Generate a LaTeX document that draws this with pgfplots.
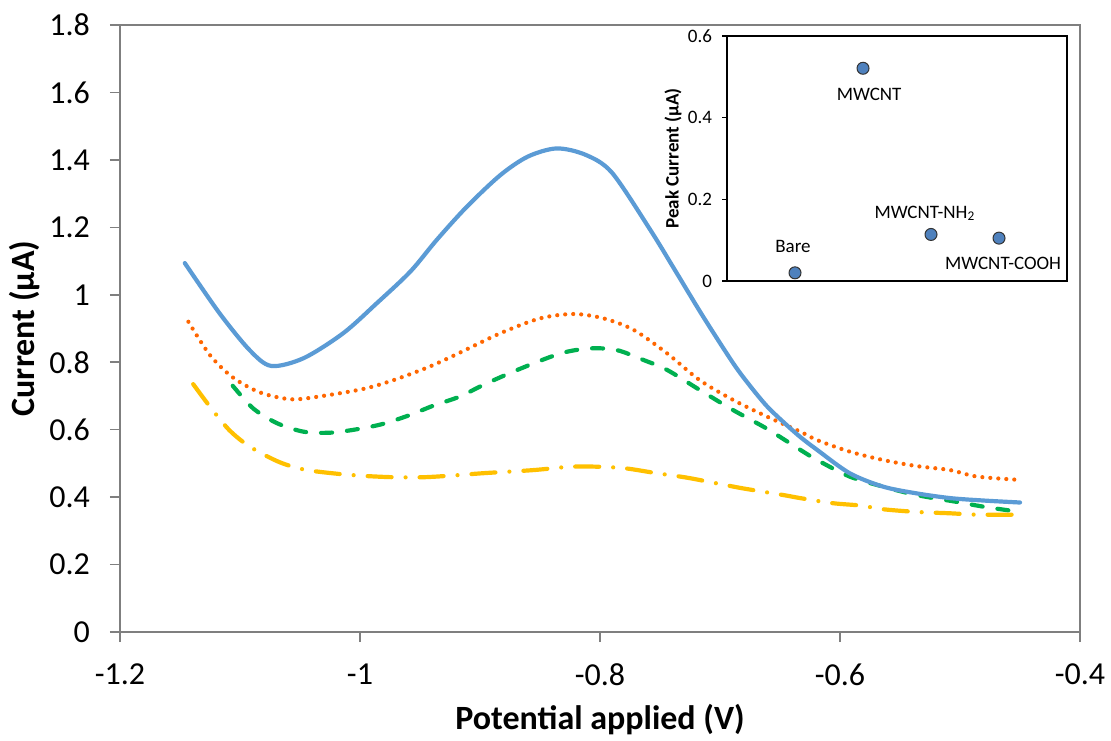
\documentclass[border=0pt]{standalone}
\usepackage{pgfplots}
\pgfplotsset{compat=1.18}
\usepackage{fontspec}
\setmainfont{Carlito}
\definecolor{cblue}{HTML}{5B9BD5}
\definecolor{corange}{HTML}{FF6600}
\definecolor{cgreen}{HTML}{00B050}
\definecolor{cyellow}{HTML}{FFC000}
\definecolor{cmark}{HTML}{4F81BD}
\definecolor{cgrid}{HTML}{7F7F7F}
\begin{document}
\begin{tikzpicture}
\useasboundingbox (-60pt,-54pt) rectangle (495.5pt,316pt);
\begin{axis}[at={(0,0)}, anchor=south west, scale only axis,
    width=480pt, height=303.5pt,
    xmin=-1.2, xmax=-0.4, ymin=0, ymax=1.8,
    xtick={-1.2,-1,...,-0.4}, ytick={0,0.2,...,1.8},
    xticklabels={-1.2,-1,-0.8,-0.6,-0.4},
    yticklabels={0,0.2,0.4,0.6,0.8,1,1.2,1.4,1.6,1.8},
    axis line style={cgrid, line width=0.8pt},
    tick style={cgrid, line width=0.8pt},
    tick align=outside, major tick length=5pt,
    xtick pos=bottom, ytick pos=left,
    ticklabel style={font=\fontsize{16}{16}\selectfont, text=black},
    xticklabel style={yshift=-7.5pt},
    yticklabel style={xshift=-6.5pt},
    /pgf/number format/assume math mode=true,
    xlabel={\textbf{Potential applied (V)}}, ylabel={\textbf{Current (μA)}},
    label style={font=\fontsize{17}{19}\selectfont},
    xlabel style={at={(axis description cs:0.5,0)}, anchor=center, yshift=-44pt},
    ylabel style={at={(axis description cs:0,0.5)}, anchor=center, yshift=47.5pt},
    clip=false]
% orange, dotted
\addplot[corange, line width=2.1pt, line cap=round, dash pattern=on 0pt off 4pt, smooth] coordinates {
(-1.143,0.920)(-1.125,0.821)(-1.106,0.755)(-1.083,0.710)(-1.057,0.690)(-1.031,0.700)
(-0.997,0.721)(-0.972,0.747)(-0.942,0.787)(-0.917,0.828)(-0.883,0.886)(-0.850,0.930)
(-0.822,0.943)(-0.797,0.930)(-0.772,0.896)(-0.744,0.826)(-0.717,0.747)(-0.689,0.688)
(-0.661,0.639)(-0.633,0.594)(-0.619,0.569)(-0.592,0.535)(-0.564,0.510)(-0.536,0.492)
(-0.508,0.480)(-0.486,0.461)(-0.450,0.451)};
% green, dashed
\addplot[cgreen, line width=2.1pt, line cap=round, dash pattern=on 5.5pt off 7.5pt, smooth] coordinates {
(-1.106,0.730)(-1.089,0.663)(-1.069,0.619)(-1.047,0.594)(-1.025,0.591)(-1.003,0.601)
(-0.981,0.617)(-0.958,0.644)(-0.939,0.671)(-0.917,0.698)(-0.897,0.733)(-0.869,0.777)
(-0.833,0.826)(-0.808,0.841)(-0.786,0.836)(-0.764,0.807)(-0.744,0.777)(-0.717,0.718)
(-0.689,0.658)(-0.661,0.603)(-0.633,0.540)(-0.619,0.510)(-0.592,0.461)(-0.564,0.431)
(-0.536,0.406)(-0.503,0.386)(-0.481,0.372)(-0.458,0.360)(-0.450,0.357)};
% yellow, dash-dot
\addplot[cyellow, line width=2.1pt, line cap=round, dash pattern=on 12pt off 7pt on 0pt off 7pt, smooth] coordinates {
(-1.139,0.735)(-1.125,0.668)(-1.109,0.599)(-1.092,0.550)(-1.068,0.505)(-1.047,0.482)
(-1.021,0.470)(-0.997,0.463)(-0.972,0.459)(-0.947,0.459)(-0.923,0.464)(-0.897,0.471)
(-0.856,0.480)(-0.825,0.490)(-0.800,0.490)(-0.778,0.485)(-0.753,0.471)(-0.728,0.458)
(-0.703,0.441)(-0.681,0.426)(-0.647,0.406)(-0.633,0.397)(-0.606,0.382)(-0.583,0.375)
(-0.564,0.364)(-0.536,0.356)(-0.508,0.352)(-0.486,0.348)(-0.450,0.348)};
% blue, solid
\addplot[cblue, line width=2.1pt, line cap=round, smooth] coordinates {
(-1.146,1.094)(-1.117,0.945)(-1.092,0.836)(-1.074,0.789)(-1.047,0.812)(-1.014,0.886)
(-0.986,0.975)(-0.958,1.069)(-0.936,1.163)(-0.911,1.261)(-0.883,1.355)(-0.860,1.410)
(-0.836,1.434)(-0.812,1.415)(-0.790,1.362)(-0.758,1.192)(-0.736,1.064)
(-0.714,0.935)(-0.689,0.797)(-0.675,0.730)(-0.661,0.670)(-0.647,0.622)(-0.633,0.578)
(-0.619,0.540)(-0.592,0.471)(-0.564,0.431)(-0.536,0.411)(-0.508,0.397)(-0.481,0.390)
(-0.450,0.384)};
\end{axis}
\begin{axis}[at={(303.5pt,175.5pt)}, anchor=south west, scale only axis,
    width=170pt, height=122.5pt,
    xmin=0, xmax=5, ymin=0, ymax=0.6,
    xtick=\empty, ytick={0,0.2,0.4,0.6},
    yticklabels={0,0.2,0.4,0.6},
    axis line style={black, line width=0.6pt},
    tick style={black, line width=0.6pt},
    tick align=outside, major tick length=2.5pt, ytick pos=left,
    ticklabel style={font=\fontsize{9.5}{10}\selectfont},
    yticklabel style={xshift=-1.5pt},
    ylabel={\textbf{Peak Current (μA)}},
    ylabel style={font=\fontsize{9.5}{10}\selectfont, at={(axis description cs:0,0.5)}, anchor=center, yshift=27pt},
    clip=false]
\addplot[only marks, mark=*, mark size=3pt, mark options={fill=cmark, draw=black!80, line width=0.5pt}] coordinates {
(1,0.020)(2,0.521)(3,0.114)(4,0.105)};
\begin{scope}[font=\fontsize{9.5}{10}\selectfont]
\node at (axis cs:0.97,0.020) [yshift=13pt] {Bare};
\node at (axis cs:2.09,0.521) [yshift=-13pt] {MWCNT};
\node at (axis cs:2.91,0.114) [yshift=10.5pt] {MWCNT-NH\textsubscript{2}};
\node at (axis cs:4.06,0.105) [yshift=-12.5pt] {MWCNT-COOH};
\end{scope}
\end{axis}
\end{tikzpicture}
\end{document}
